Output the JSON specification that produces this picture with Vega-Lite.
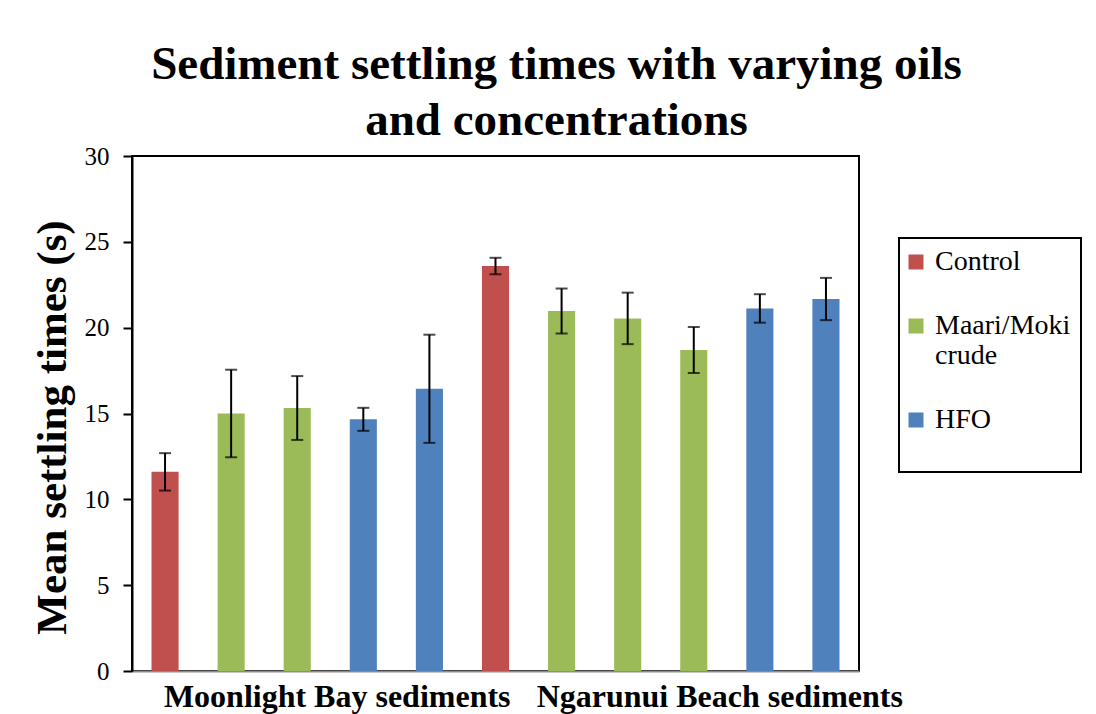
{
  "$schema": "https://vega.github.io/schema/vega-lite/v6.json",
  "width": 727,
  "height": 515,
  "autosize": {"type": "none"},
  "padding": {"left": 132, "top": 156, "right": 237, "bottom": 43},
  "background": "white",
  "title": {
    "text": ["Sediment settling times with varying oils", "and concentrations"],
    "font": "Liberation Serif",
    "fontSize": 47,
    "fontWeight": "bold",
    "color": "black",
    "lineHeight": 56,
    "anchor": "middle",
    "frame": "group",
    "dx": 61,
    "dy": 15,
    "offset": 14
  },
  "data": {
    "values": [
      {"id": 1, "site": "Moonlight Bay", "oil": "Control", "mean": 11.6, "err": 1.09},
      {"id": 2, "site": "Moonlight Bay", "oil": "Maari/Moki crude", "mean": 15.0, "err": 2.55},
      {"id": 3, "site": "Moonlight Bay", "oil": "Maari/Moki crude", "mean": 15.32, "err": 1.86},
      {"id": 4, "site": "Moonlight Bay", "oil": "HFO", "mean": 14.66, "err": 0.67},
      {"id": 5, "site": "Moonlight Bay", "oil": "HFO", "mean": 16.44, "err": 3.15},
      {"id": 6, "site": "Ngarunui Beach", "oil": "Control", "mean": 23.59, "err": 0.48},
      {"id": 7, "site": "Ngarunui Beach", "oil": "Maari/Moki crude", "mean": 20.97, "err": 1.31},
      {"id": 8, "site": "Ngarunui Beach", "oil": "Maari/Moki crude", "mean": 20.54, "err": 1.5},
      {"id": 9, "site": "Ngarunui Beach", "oil": "Maari/Moki crude", "mean": 18.7, "err": 1.34},
      {"id": 10, "site": "Ngarunui Beach", "oil": "HFO", "mean": 21.12, "err": 0.83},
      {"id": 11, "site": "Ngarunui Beach", "oil": "HFO", "mean": 21.67, "err": 1.23}
    ]
  },
  "encoding": {
    "x": {
      "field": "id",
      "type": "ordinal",
      "scale": {"paddingInner": 0.59, "paddingOuter": 0.295},
      "axis": {
        "title": null,
        "labels": false,
        "ticks": false,
        "domainColor": "#8c8c8c",
        "domainWidth": 2
      }
    }
  },
  "layer": [
    {
      "mark": {"type": "bar"},
      "encoding": {
        "y": {
          "field": "mean",
          "type": "quantitative",
          "title": "Mean settling times (s)",
          "scale": {"domain": [0, 30], "nice": false},
          "axis": {
            "values": [0, 5, 10, 15, 20, 25, 30],
            "grid": false,
            "titleFont": "Liberation Serif",
            "titleFontSize": 43,
            "titleFontWeight": "bold",
            "titleColor": "black",
            "titlePadding": 10,
            "titleY": 271,
            "labelFont": "Liberation Serif",
            "labelFontSize": 25,
            "labelColor": "black",
            "labelPadding": 14,
            "tickColor": "black",
            "tickSize": 9,
            "tickWidth": 2,
            "domainColor": "black",
            "domainWidth": 2
          }
        },
        "color": {
          "field": "oil",
          "type": "nominal",
          "scale": {
            "domain": ["Control", "Maari/Moki crude", "HFO"],
            "range": ["#C0504D", "#9BBB59", "#4F81BD"]
          },
          "legend": {
            "title": " ",
            "titleOrient": "bottom",
            "titleFontSize": 20,
            "titlePadding": 8,
            "orient": "none",
            "legendX": 767,
            "legendY": 82,
            "symbolType": "square",
            "symbolSize": 225,
            "symbolStrokeWidth": 0,
            "symbolOpacity": 1,
            "symbolOffset": -7,
            "labelFont": "Liberation Serif",
            "labelFontSize": 28,
            "labelColor": "black",
            "labelOffset": 5,
            "labelLimit": 200,
            "labelExpr": "datum.label == 'Maari/Moki crude' ? ['Maari/Moki', 'crude'] : datum.label",
            "rowPadding": 36,
            "padding": 10,
            "strokeColor": "black",
            "fillColor": "white"
          }
        }
      }
    },
    {
      "mark": {
        "type": "errorbar",
        "color": "black",
        "thickness": 2,
        "ticks": {"size": 12, "thickness": 2, "color": "black"}
      },
      "encoding": {
        "y": {"field": "mean", "type": "quantitative", "title": "Mean settling times (s)"},
        "yError": {"field": "err"}
      }
    },
    {
      "data": {"values": [{"id": 3, "label": "Moonlight Bay sediments"}]},
      "mark": {
        "type": "text",
        "font": "Liberation Serif",
        "fontSize": 32,
        "fontWeight": "bold",
        "color": "black",
        "baseline": "middle",
        "align": "center",
        "dx": 40,
        "dy": 26
      },
      "encoding": {
        "y": {"datum": 0},
        "text": {"field": "label"}
      }
    },
    {
      "data": {"values": [{"id": 9, "label": "Ngarunui Beach sediments"}]},
      "mark": {
        "type": "text",
        "font": "Liberation Serif",
        "fontSize": 32,
        "fontWeight": "bold",
        "color": "black",
        "baseline": "middle",
        "align": "center",
        "dx": 26,
        "dy": 26
      },
      "encoding": {
        "y": {"datum": 0},
        "text": {"field": "label"}
      }
    }
  ],
  "config": {
    "view": {"stroke": "black", "strokeWidth": 2},
    "legend": {"strokeWidth": 2}
  }
}
